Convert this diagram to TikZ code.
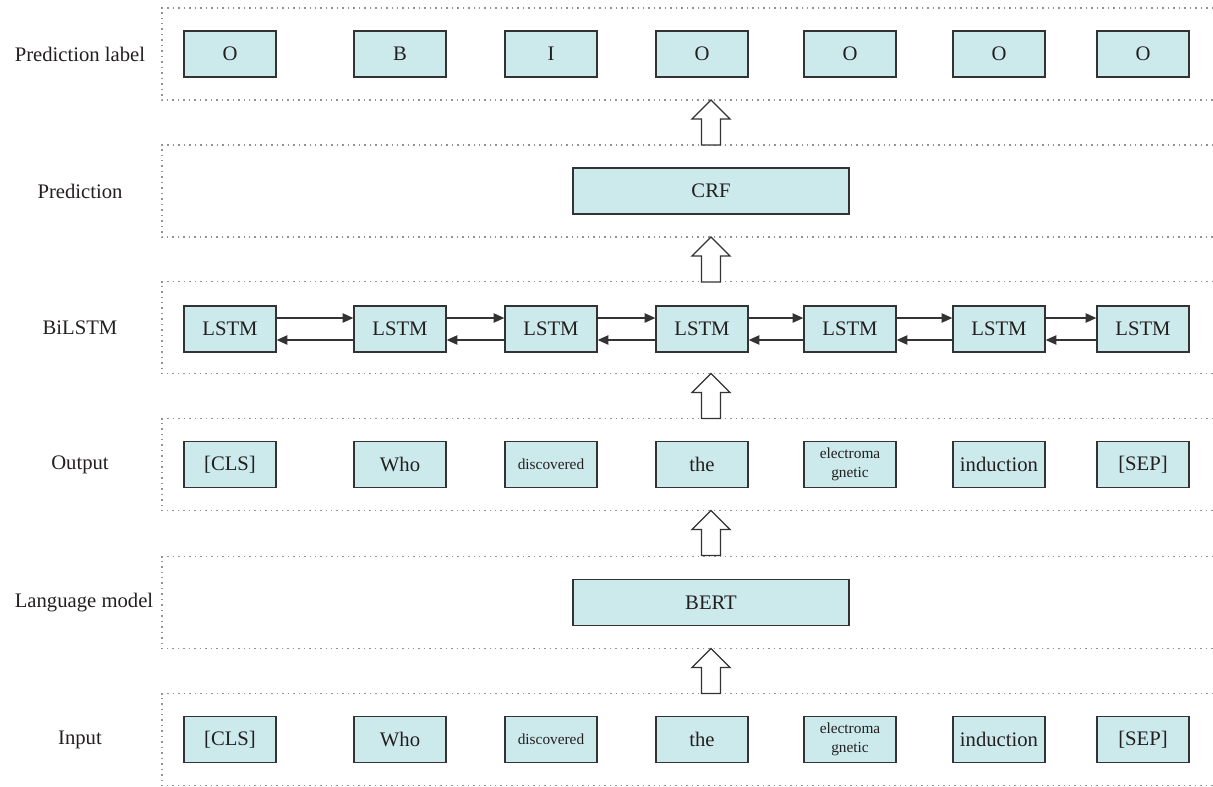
\documentclass[tikz,border=0pt]{standalone}
\usepackage{fontspec}
\setmainfont{Liberation Serif}
\usetikzlibrary{arrows.meta,calc}
\definecolor{boxfill}{HTML}{CCEAEC}
\definecolor{ink}{HTML}{231F20}
\definecolor{edge}{HTML}{333333}
\begin{document}
\begin{tikzpicture}[x=0.75pt,y=-0.75pt,
  every node/.style={text=ink, font=\fontsize{15.5}{18}\selectfont},
  layer/.style={minimum width=788.25pt, minimum height=69pt, inner sep=0pt, outer sep=0pt},
  dotline/.style={draw=gray!85, line width=1.1pt, dash pattern=on 1.1pt off 3pt},
  tok/.style={draw=edge, fill=boxfill, line width=1pt, minimum width=69pt, minimum height=34.5pt, inner sep=0pt},
  widebox/.style={tok, minimum width=207pt},
  smalltxt/.style={font=\fontsize{11.5}{14}\selectfont, align=center},
  link/.style={draw=edge, line width=0.9pt, -{Triangle[length=8pt,width=7pt]}},
  blockarrow/.style={draw=edge, fill=white, line width=1pt, line join=miter}
]
\useasboundingbox (0,0) rectangle (1213,786);

% layers
\node[layer] (L1) at (687.5,54) {};
\node[layer] (L2) at (687.5,191) {};
\node[layer] (L3) at (687.5,327.5) {};
\node[layer] (L4) at (687.5,464.5) {};
\node[layer] (L5) at (687.5,602.5) {};
\node[layer] (L6) at (687.5,739.5) {};
\foreach \n in {L1,L2,L3,L4,L5,L6}
  \draw[dotline] (\n.north east) -- (\n.north west) -- (\n.south west) -- (\n.south east);

% layer labels
\node (t1) at (80,54) {Prediction label};
\node (t2) at (80,191) {Prediction};
\node (t3) at (80,327.5) {BiLSTM};
\node (t4) at (80,464.5) {Output};
\node (t5) at (84,602.5) {Language model};
\node (t6) at (80,739.5) {Input};

% prediction labels
\foreach \x/\t [count=\i] in {230/O,400/B,551/I,702/O,850/O,999/O,1143/O}
  \node[tok] (p\i) at (\x,54) {\t};

% CRF
\node[widebox] (crf) at (711,191) {CRF};

% LSTM row
\foreach \x [count=\i] in {230,400,551,702,850,999,1143}
  \node[tok] (l\i) at (\x,329) {LSTM};
\foreach \i [evaluate=\i as \j using int(\i+1)] in {1,...,6} {
  \draw[link] ([yshift=8.25pt]l\i.east) -- ([yshift=8.25pt]l\j.west);
  \draw[link] ([yshift=-8.25pt]l\j.west) -- ([yshift=-8.25pt]l\i.east);
}

% Output row
\node[tok] (o1) at (230,464.5) {[CLS]};
\node[tok] (o2) at (400,464.5) {Who};
\node[tok, smalltxt] (o3) at (551,464.5) {discovered};
\node[tok] (o4) at (702,464.5) {the};
\node[tok, smalltxt] (o5) at (850,464.5) {electroma\\gnetic};
\node[tok] (o6) at (999,464.5) {induction};
\node[tok] (o7) at (1143,464.5) {[SEP]};

% BERT
\node[widebox] (bert) at (711,602.5) {BERT};

% Input row
\node[tok] (i1) at (230,739.5) {[CLS]};
\node[tok] (i2) at (400,739.5) {Who};
\node[tok, smalltxt] (i3) at (551,739.5) {discovered};
\node[tok] (i4) at (702,739.5) {the};
\node[tok, smalltxt] (i5) at (850,739.5) {electroma\\gnetic};
\node[tok] (i6) at (999,739.5) {induction};
\node[tok] (i7) at (1143,739.5) {[SEP]};

% block arrows between layers
\foreach \a in {L1,L2,L3,L4,L5}
  \draw[blockarrow] (crf |- \a.south) -- ++(19,19) -- ++(-9.5,0) -- ++(0,26)
     -- ++(-19,0) -- ++(0,-26) -- ++(-9.5,0) -- cycle;
\end{tikzpicture}
\end{document}
